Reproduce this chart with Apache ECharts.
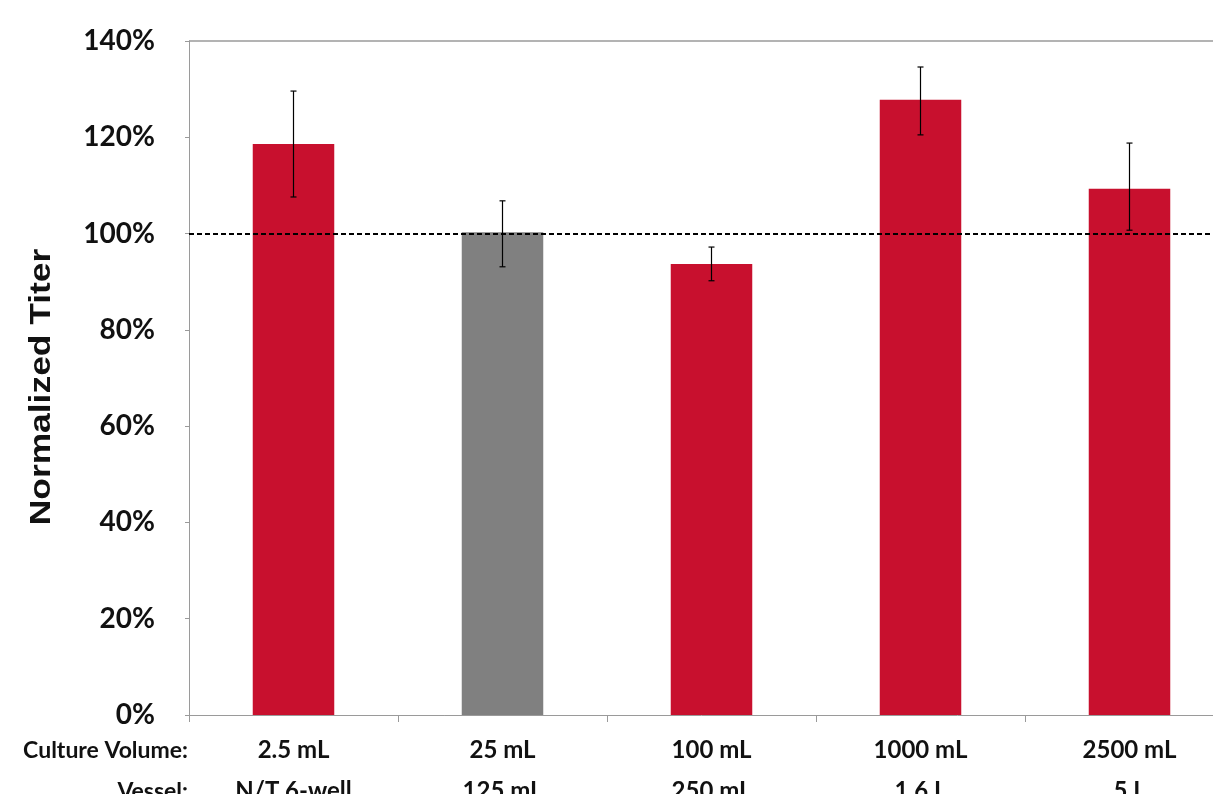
<!DOCTYPE html>
<html>
<head>
<meta charset="utf-8">
<script src="https://cdn.jsdelivr.net/npm/echarts@6/dist/echarts.min.js"></script>
<style>html,body{margin:0;padding:0;background:#fff;overflow:hidden}#c{width:1213px;height:794px}</style>
</head>
<body>
<div id="c"></div>
<script>
const volumes = ['2.5 mL', '25 mL', '100 mL', '1000 mL', '2500 mL'];
const vessels = ['N/T 6-well', '125 mL', '250 mL', '1.6 L', '5 L'];
const titer = [118.6, 100.3, 93.7, 127.8, 109.3];
const errLow = [107.6, 93.1, 90.2, 120.5, 100.7];
const errHigh = [129.6, 106.8, 97.2, 134.6, 118.8];
const barColors = ['#C8102E', '#808080', '#C8102E', '#C8102E', '#C8102E'];
const yTicks = [0, 20, 40, 60, 80, 100, 120, 140];
const reference = 100;
const yMax = 140;

const font = 'Lato, "Open Sans", sans-serif';
const chart = echarts.init(document.getElementById('c'), null, {renderer: 'canvas'});
const cats = volumes.map((v, i) => v + '\n' + vessels[i]);

chart.setOption({
  animation: false,
  grid: {left: 189, top: 41, right: -21, bottom: 79, containLabel: false, outerBoundsMode: 'none'},
  xAxis: {
    type: 'category', data: cats,
    axisLine: {lineStyle: {color: '#9a9a9a', width: 1}},
    axisTick: {show: true, length: 7, lineStyle: {color: '#9a9a9a'}},
    splitLine: {show: false},
    axisLabel: {color: '#111', fontFamily: font, fontWeight: 'bold', fontSize: 24, lineHeight: 41, margin: 15, interval: 0}
  },
  yAxis: {
    type: 'value', min: 0, max: yMax, interval: 20,
    axisLine: {show: true, lineStyle: {color: '#9a9a9a'}},
    axisTick: {show: true, length: 4, lineStyle: {color: '#9a9a9a'}},
    splitLine: {show: false},
    axisLabel: {color: '#111', fontFamily: font, fontWeight: 'bold', fontSize: 28, margin: 34,
      formatter: v => yTicks.includes(v) ? v + '%' : ''}
  },
  series: [{
    type: 'bar', barWidth: '39%',
    data: titer.map((v, i) => ({value: v, itemStyle: {color: barColors[i]}})),
    markLine: {
      symbol: 'none', silent: true,
      label: {show: false},
      data: [
        {yAxis: reference, lineStyle: {color: '#000', type: [5, 3], width: 2}},
        {yAxis: yMax, lineStyle: {color: '#9a9a9a', type: 'solid', width: 1.5}}
      ]
    }
  }, {
    type: 'custom',
    renderItem: function (params, api) {
      const i = api.value(0);
      const lo = api.coord([i, api.value(1)]);
      const hi = api.coord([i, api.value(2)]);
      const w = 3;
      const st = {stroke: '#000', lineWidth: 1.2};
      return {type: 'group', children: [
        {type: 'line', shape: {x1: hi[0], y1: hi[1], x2: lo[0], y2: lo[1]}, style: st},
        {type: 'line', shape: {x1: hi[0] - w, y1: hi[1], x2: hi[0] + w, y2: hi[1]}, style: st},
        {type: 'line', shape: {x1: lo[0] - w, y1: lo[1], x2: lo[0] + w, y2: lo[1]}, style: st}
      ]};
    },
    data: titer.map((v, i) => [i, errLow[i], errHigh[i]]),
    z: 5
  }],
  graphic: [{
    type: 'text', x: 188, y: 751,
    style: {text: 'Culture Volume:', font: 'bold 23px ' + font, fill: '#111', textAlign: 'right', textVerticalAlign: 'middle'}
  }, {
    type: 'text', x: 188, y: 792,
    style: {text: 'Vessel:', font: 'bold 23px ' + font, fill: '#111', textAlign: 'right', textVerticalAlign: 'middle'}
  }, {
    type: 'text', x: 42, y: 387, rotation: Math.PI / 2, scaleX: 1.22,
    style: {text: 'Normalized Titer', font: 'bold 29px "Liberation Sans", Arial, sans-serif', fill: '#111', textAlign: 'center', textVerticalAlign: 'middle'}
  }]
});
</script>
</body>
</html>
